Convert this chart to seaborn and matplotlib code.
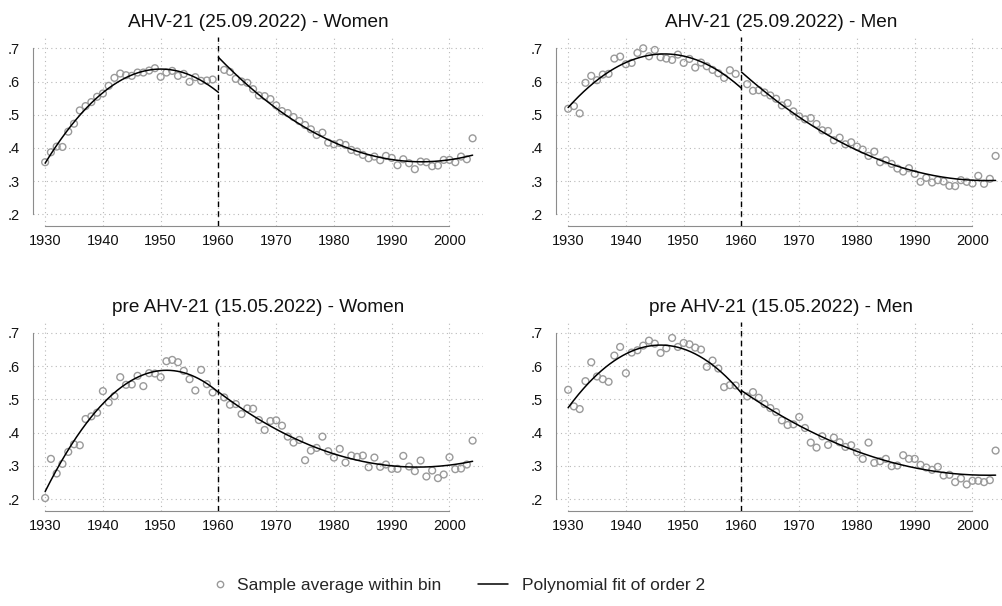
import numpy as np
import pandas as pd
import matplotlib
matplotlib.use("Agg")
import matplotlib.pyplot as plt
import seaborn as sns
from matplotlib.lines import Line2D

# ---------------- data ----------------
years_left = list(range(1930, 1960))
years_right = list(range(1961, 2005))
cutoff = 1960

women_ahv21 = [.357, .387, .404, .403, .449, .473, .513, .526, .538, .554,
               .564, .587, .611, .624, .619, .617, .627, .627, .633, .640,
               .614, .627, .632, .617, .623, .599, .613, .602, .603, .606,
               .635, .629, .608, .600, .596, .577, .558, .556, .547, .528,
               .511, .505, .493, .481, .469, .456, .439, .446, .416, .411,
               .415, .409, .394, .389, .379, .369, .374, .363, .376, .370,
               .348, .366, .354, .336, .359, .357, .345, .347, .364, .364,
               .357, .374, .366, .429]
men_ahv21 = [.518, .526, .504, .596, .617, .604, .621, .623, .669, .675,
             .652, .656, .686, .700, .676, .695, .673, .669, .665, .681,
             .656, .668, .642, .657, .646, .635, .625, .611, .634, .623,
             .592, .572, .574, .567, .558, .548, .528, .535, .510, .495,
             .486, .490, .472, .453, .451, .423, .431, .411, .417, .404,
             .395, .376, .389, .357, .363, .352, .338, .329, .339, .322,
             .298, .310, .296, .303, .299, .286, .285, .303, .298, .293,
             .316, .292, .307, .376]
women_pre = [.203, .321, .277, .306, .342, .365, .362, .441, .449, .460,
             .525, .491, .510, .567, .544, .545, .571, .540, .579, .578,
             .567, .615, .619, .612, .586, .561, .527, .589, .546, .521,
             .506, .484, .486, .456, .473, .472, .438, .408, .435, .437,
             .421, .388, .370, .378, .317, .346, .354, .388, .344, .325,
             .351, .310, .331, .327, .331, .296, .325, .297, .304, .291,
             .291, .330, .298, .284, .316, .268, .286, .263, .274, .326,
             .290, .292, .304, .376]
men_pre = [.529, .479, .471, .555, .612, .569, .561, .553, .632, .658,
           .579, .641, .648, .662, .677, .668, .640, .654, .685, .658,
           .670, .666, .656, .650, .598, .617, .593, .537, .543, .542,
           .509, .522, .505, .486, .474, .462, .437, .423, .425, .447,
           .414, .370, .355, .389, .363, .385, .371, .357, .362, .341,
           .321, .370, .309, .314, .321, .299, .301, .332, .321, .321,
           .303, .295, .288, .297, .271, .273, .251, .262, .244, .255,
           .255, .251, .257, .346]

titles = ["AHV-21 (25.09.2022) - Women", "AHV-21 (25.09.2022) - Men",
          "pre AHV-21 (15.05.2022) - Women", "pre AHV-21 (15.05.2022) - Men"]
series = [women_ahv21, men_ahv21, women_pre, men_pre]

y_ticks = [.2, .3, .4, .5, .6, .7]
y_tick_labels = [".2", ".3", ".4", ".5", ".6", ".7"]
x_ticks = [1930, 1940, 1950, 1960, 1970, 1980, 1990, 2000]

legend_labels = ["Sample average within bin", "Polynomial fit of order 2"]
poly_order = 2

# ---------------- style ----------------
sns.set_style("white")
plt.rcParams['font.family'] = ['Liberation Sans', 'DejaVu Sans']

W, H = 1002, 606
fig = plt.figure(figsize=(W / 100, H / 100), dpi=100)

pos_px = [(33, 37), (556, 37), (33, 321.7), (556, 321.7)]
ax_w, ax_h = 450, 189

marker_col = "#9a9a9a"
axis_col = "#8c8c8c"
grid_col = "#b9b9b9"

years_all = years_left + years_right
for (l, t), vals, title in zip(pos_px, series, titles):
    ax = fig.add_axes([l / W, 1 - (t + ax_h) / H, ax_w / W, ax_h / H])
    df = pd.DataFrame({"year": years_all, "value": vals})
    df["side"] = np.where(df["year"] < cutoff, "left", "right")

    ax.set_xlim(1927.9, 2005.8)
    ax.set_ylim(.165, .734)
    ax.set_xticks(x_ticks)
    ax.set_yticks(y_ticks)
    ax.set_yticklabels(y_tick_labels)

    # grid
    for yt in y_ticks:
        ax.axhline(yt, color=grid_col, lw=0.8, ls=(0, (1, 3)), zorder=0)
    for xt in x_ticks:
        ax.axvline(xt, color=grid_col, lw=0.8, ls=(0, (1, 3)), zorder=0)

    sns.scatterplot(data=df, x="year", y="value", ax=ax, marker="o",
                    s=24, facecolors="none", edgecolor=marker_col,
                    linewidth=1.0, zorder=3, legend=False)

    # polynomial fits on each side of the cutoff
    for side, lo, hi in [("left", years_left[0], cutoff), ("right", cutoff, years_right[-1])]:
        sub = df[df["side"] == side]
        coef = np.polyfit(sub["year"], sub["value"], poly_order)
        xs = np.linspace(lo, hi, 200)
        sns.lineplot(x=xs, y=np.polyval(coef, xs), ax=ax, color="black",
                     lw=1.1, zorder=4)

    ax.axvline(cutoff, color="black", lw=1.0, ls=(0, (4, 3)), zorder=5)

    for s in ["top", "right"]:
        ax.spines[s].set_visible(False)
    ax.spines["left"].set_bounds(.2, .7)
    ax.spines["bottom"].set_bounds(1930, 2000)
    for s in ["left", "bottom"]:
        ax.spines[s].set_color(axis_col)
        ax.spines[s].set_linewidth(0.8)
    ax.tick_params(axis="both", length=2.8, width=0.8, color=axis_col,
                   labelsize=10.5, labelcolor="#111111", direction="out")
    ax.tick_params(axis="y", pad=6.5)
    ax.tick_params(axis="x", pad=3)
    ax.set_xlabel("")
    ax.set_ylabel("")
    ax.set_title(title, fontsize=13.7, pad=7, color="#111111")

# legend
h1 = Line2D([], [], marker="o", ls="none", markersize=4.6,
            markerfacecolor="none", markeredgecolor=marker_col, markeredgewidth=1.0)
h2 = Line2D([], [], color="black", lw=1.1)
ly = 1 - 585 / H
fig.legend([h1], [legend_labels[0]], loc="center left",
           bbox_to_anchor=(213 / W, ly), frameon=False, fontsize=12.5,
           handlelength=0.8, handletextpad=0.6, borderpad=0, borderaxespad=0)
fig.legend([h2], [legend_labels[1]], loc="center left",
           bbox_to_anchor=(478 / W, ly), frameon=False, fontsize=12.5,
           handlelength=1.73, handletextpad=0.8, borderpad=0, borderaxespad=0)

fig.savefig("out.png", dpi=100)
